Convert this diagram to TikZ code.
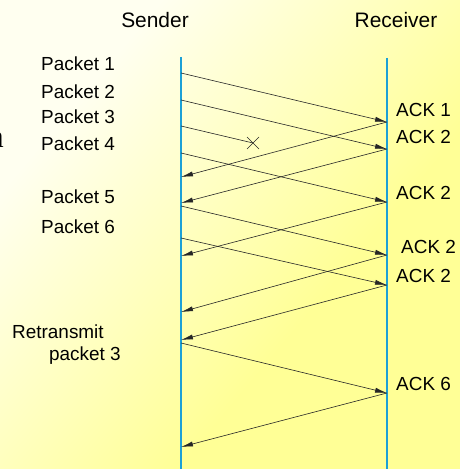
\documentclass[tikz,border=0pt]{standalone}
\usepackage{fontspec}
\setmainfont{Liberation Sans}
\newfontfamily\slideserif{Liberation Serif}
\usetikzlibrary{arrows.meta,calc}
\definecolor{bglight}{RGB}{255,255,240}
\definecolor{bgyellow}{RGB}{255,255,150}
\definecolor{lifeline}{RGB}{28,160,214}
\pgfdeclarehorizontalshading{slidebg}{100bp}{color(0bp)=(bglight); color(28bp)=(bglight); color(62bp)=(bgyellow); color(100bp)=(bgyellow)}
\tikzset{
  msg/.style={draw=black!85, line width=0.6bp, -{Latex[length=12bp,width=5bp]}},
  lost/.style={draw=black!85, line width=0.6bp},
  lbl/.style={font=\fontsize{19}{22}\selectfont, inner sep=0pt},
  head/.style={font=\fontsize{21}{24}\selectfont, inner sep=0pt},
}
\begin{document}
\begin{tikzpicture}[x=1bp,y=-1bp]
\useasboundingbox (0,0) rectangle (460,469);
\shade[shading=slidebg, shading angle=-40] (0,0) rectangle (460,469);
\node[anchor=base east, inner sep=0pt, font=\slideserif\fontsize{32}{36}\selectfont] (cut) at (4,148) {n};
% lifelines
\node[head] (sender) at (155,20) {Sender};
\node[head] (receiver) at (396,20) {Receiver};
\coordinate (stop) at (181,57);  \coordinate (sbot) at (181,469);
\coordinate (rtop) at (387,58);  \coordinate (rbot) at (387,469);
\draw[lifeline, line width=2bp] (stop) -- (sbot);
\draw[lifeline, line width=2bp] (rtop) -- (rbot);
% points on the sender line
\coordinate (s1) at (181,73);  \coordinate (s2) at (181,100);
\coordinate (s3) at (181,126); \coordinate (s4) at (181,153);
\coordinate (s5) at (181,206); \coordinate (s6) at (181,238);
\coordinate (sr) at (181,343);
\coordinate (a1) at (181,177); \coordinate (a2) at (181,203);
\coordinate (a3) at (181,256); \coordinate (a4) at (181,312);
\coordinate (a5) at (181,340); \coordinate (a6) at (181,447);
% points on the receiver line
\coordinate (r1) at (387,122); \coordinate (r2) at (387,149);
\coordinate (r4) at (387,202); \coordinate (r5) at (387,255);
\coordinate (r6) at (387,285); \coordinate (rr) at (387,393);
\coordinate (x3) at (253,143);
% packets
\draw[msg] (s1) -- (r1);
\draw[msg] (s2) -- (r2);
\draw[lost] (s3) -- (x3);
\draw[lost] ($(x3)+(-6,-6)$) -- ($(x3)+(6,6)$) ($(x3)+(-6,6)$) -- ($(x3)+(6,-6)$);
\draw[msg] (s4) -- (r4);
\draw[msg] (s5) -- (r5);
\draw[msg] (s6) -- (r6);
\draw[msg] (sr) -- (rr);
% acks
\draw[msg] (r1) -- (a1);
\draw[msg] (r2) -- (a2);
\draw[msg] (r4) -- (a3);
\draw[msg] (r5) -- (a4);
\draw[msg] (r6) -- (a5);
\draw[msg] (rr) -- (a6);
% labels
\node[lbl, anchor=west] (p1) at (41,64) {Packet 1};
\node[lbl, anchor=west] (p2) at (41,92) {Packet 2};
\node[lbl, anchor=west] (p3) at (41,117) {Packet 3};
\node[lbl, anchor=west] (p4) at (41,144) {Packet 4};
\node[lbl, anchor=west] (p5) at (41,197) {Packet 5};
\node[lbl, anchor=west] (p6) at (41,227) {Packet 6};
\node[lbl, anchor=west] (re1) at (12,332) {Retransmit};
\node[lbl, anchor=west] (re2) at (49,356) {packet 3};
\node[lbl, anchor=west] (k1) at (396,110) {ACK 1};
\node[lbl, anchor=west] (k2) at (396,137) {ACK 2};
\node[lbl, anchor=west] (k3) at (396,193) {ACK 2};
\node[lbl, anchor=west] (k4) at (401,247) {ACK 2};
\node[lbl, anchor=west] (k5) at (396,276) {ACK 2};
\node[lbl, anchor=west] (k6) at (396,384) {ACK 6};
\end{tikzpicture}
\end{document}
